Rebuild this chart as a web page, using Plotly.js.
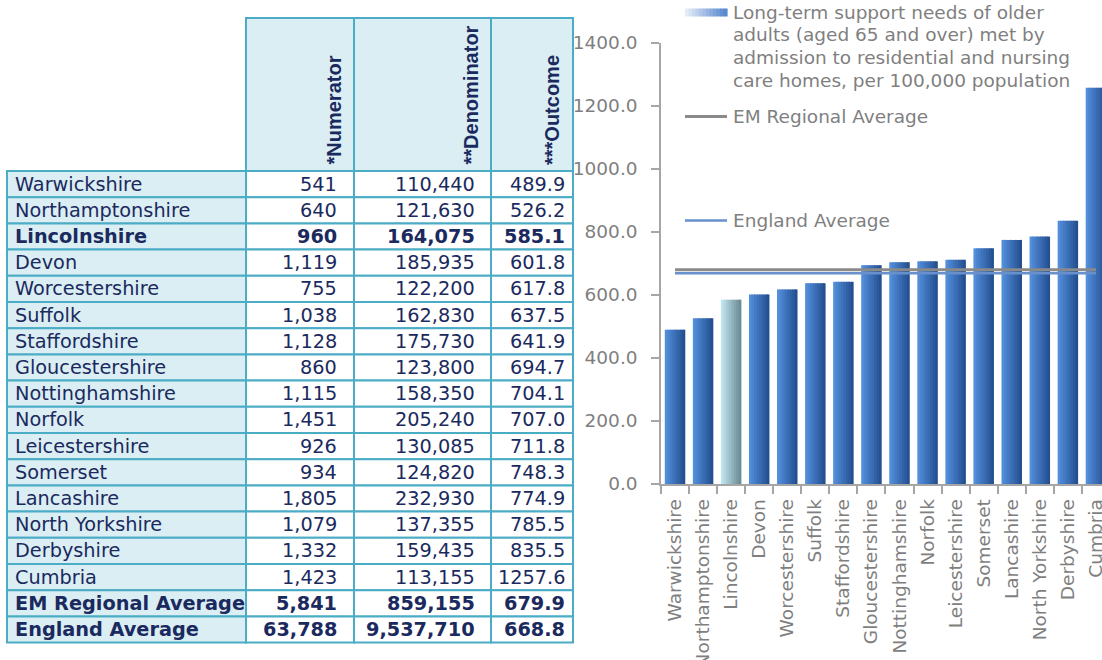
<!DOCTYPE html>
<html>
<head>
<meta charset="utf-8">
<script src="https://cdn.plot.ly/plotly-3.0.1.min.js"></script>
<style>
html, body { margin: 0; padding: 0; background: #ffffff; overflow: hidden; }
#chart { width: 1102px; height: 660px; }
</style>
</head>
<body>
<div id="chart"></div>
<script>
// ---------------- data ----------------
const counties = ['Warwickshire', 'Northamptonshire', 'Lincolnshire', 'Devon', 'Worcestershire', 'Suffolk',
  'Staffordshire', 'Gloucestershire', 'Nottinghamshire', 'Norfolk', 'Leicestershire', 'Somerset',
  'Lancashire', 'North Yorkshire', 'Derbyshire', 'Cumbria'];
const numerators = [541, 640, 960, 1119, 755, 1038, 1128, 860, 1115, 1451, 926, 934, 1805, 1079, 1332, 1423];
const denominators = [110440, 121630, 164075, 185935, 122200, 162830, 175730, 123800, 158350, 205240,
  130085, 124820, 232930, 137355, 159435, 113155];
const outcomes = [489.9, 526.2, 585.1, 601.8, 617.8, 637.5, 641.9, 694.7, 704.1, 707.0, 711.8, 748.3,
  774.9, 785.5, 835.5, 1257.6];
const averageLabels = ['EM Regional Average', 'England Average'];
const averageNumerators = [5841, 63788];
const averageDenominators = [859155, 9537710];
const averageOutcomes = [679.9, 668.8];
const highlightCounty = 'Lincolnshire';
const columnHeaders = ['*Numerator', '**Denominator', '***Outcome'];
const seriesLegendLines = ['Long-term support needs of older', 'adults (aged 65 and over) met by',
  'admission to residential and nursing', 'care homes, per 100,000 population'];
const yTicks = [0, 200, 400, 600, 800, 1000, 1200, 1400];

// ---------------- helpers / styles ----------------
const W = 1102, H = 660;
const px = x => x / W;
const py = y => 1 - y / H;
const comma = n => String(n).replace(/\B(?=(\d{3})+(?!\d))/g, ',');
const FONT = 'DejaVu Sans, Verdana, sans-serif';
const HFONT = 'Liberation Sans, Arial, sans-serif';
const NAVY = '#1b2a5e';
const BORDER = '#4bacc6';
const CELLFILL = '#daeef3';
const GRAY = '#7f7f7f';
const AXIS = '#a6a6a6';
const EM_COLOR = '#8a8a8a';
const ENG_COLOR = '#6890cc';

const shapes = [];
const annotations = [];
function rect(x0, y0, x1, y1, fill, lineColor, lw) {
  return { type: 'rect', xref: 'paper', yref: 'paper', x0: px(x0), x1: px(x1), y0: py(y1), y1: py(y0),
    fillcolor: fill, line: { color: lineColor, width: lw } };
}

// ---------------- table ----------------
const colEdges = [7, 246, 354, 491, 573];
const headerTop = 18, headerBottom = 171, rowH = 26.2;
const pads = [6, 15, 14, 6];

columnHeaders.forEach((h, i) => {
  const c = i + 1;
  shapes.push(rect(colEdges[c], headerTop, colEdges[c + 1], headerBottom, CELLFILL, BORDER, 2));
  annotations.push({ xref: 'paper', yref: 'paper', showarrow: false, text: '<b>' + h + '</b>',
    textangle: -90, x: px(colEdges[c + 1] - 21), y: py(headerBottom - 4), xanchor: 'center', yanchor: 'bottom',
    font: { family: HFONT, size: 20, color: NAVY } });
});

const rowNames = counties.concat(averageLabels);
const rowNum = numerators.concat(averageNumerators);
const rowDen = denominators.concat(averageDenominators);
const rowOut = outcomes.concat(averageOutcomes);
rowNames.forEach((name, r) => {
  const top = headerBottom + r * rowH, bot = top + rowH;
  const bold = name === highlightCounty || averageLabels.includes(name);
  const cells = [name, comma(rowNum[r]), comma(rowDen[r]), rowOut[r].toFixed(1)];
  cells.forEach((t, c) => {
    shapes.push(rect(colEdges[c], top, colEdges[c + 1], bot, c === 0 ? CELLFILL : '#ffffff', BORDER, 2));
    annotations.push({ xref: 'paper', yref: 'paper', showarrow: false,
      text: bold ? '<b>' + t + '</b>' : t,
      x: c === 0 ? px(colEdges[0] + pads[0]) : px(colEdges[c + 1] - pads[c]),
      xanchor: c === 0 ? 'left' : 'right',
      y: py((top + bot) / 2), yanchor: 'middle',
      font: { family: FONT, size: 19.3, color: NAVY } });
  });
});

// ---------------- legend (drawn) ----------------
const legTextX = 731, symX0 = 685, symX1 = 727;
const gradSteps = 12;
const gL = [228, 235, 247], gR = [88, 136, 208];
for (let k = 0; k < gradSteps; k++) {
  const t = k / (gradSteps - 1);
  const col = 'rgb(' + gL.map((v, j) => Math.round(v + (gR[j] - v) * t)).join(',') + ')';
  const w = (symX1 - symX0) / gradSteps;
  shapes.push(rect(symX0 + k * w, 8.5, symX0 + (k + 1) * w + 0.6, 16.5, col, col, 0));
}
[12.7, 35, 57.5, 80].forEach((y, i) => {
  annotations.push({ xref: 'paper', yref: 'paper', showarrow: false, text: seriesLegendLines[i],
    x: px(legTextX), y: py(y), xanchor: 'left', yanchor: 'middle',
    font: { family: FONT, size: 18.5, color: GRAY } });
});
shapes.push({ type: 'line', xref: 'paper', yref: 'paper', x0: px(symX0), x1: px(symX1), y0: py(116.4), y1: py(116.4),
  line: { color: EM_COLOR, width: 3 } });
annotations.push({ xref: 'paper', yref: 'paper', showarrow: false, text: averageLabels[0],
  x: px(legTextX), y: py(116.5), xanchor: 'left', yanchor: 'middle', font: { family: FONT, size: 18.5, color: GRAY } });
shapes.push({ type: 'line', xref: 'paper', yref: 'paper', x0: px(symX0), x1: px(symX1), y0: py(220.6), y1: py(220.6),
  line: { color: ENG_COLOR, width: 2.5 } });
annotations.push({ xref: 'paper', yref: 'paper', showarrow: false, text: averageLabels[1],
  x: px(legTextX), y: py(220.5), xanchor: 'left', yanchor: 'middle', font: { family: FONT, size: 18.5, color: GRAY } });

// ---------------- bars (stepped horizontal gradient) ----------------
const N = 8, BW = 0.73;
const blueL = [82, 142, 218], blueR = [36, 80, 146];
const lightL = [192, 228, 238], lightR = [108, 140, 150];
const mix = (a, b, t) => 'rgb(' + a.map((v, j) => Math.round(v + (b[j] - v) * t)).join(',') + ')';
const traces = [];
for (let k = 0; k < N; k++) {
  const t = k / (N - 1);
  traces.push({
    type: 'bar', x: counties, y: outcomes,
    width: k < N - 1 ? BW / N * 1.35 : BW / N,
    offset: -BW / 2 + k * BW / N,
    marker: { color: counties.map(c => c === highlightCounty ? mix(lightL, lightR, t) : mix(blueL, blueR, t)),
      line: { width: 0 } },
    showlegend: false, hoverinfo: 'x+y'
  });
}
// average lines
traces.push({ type: 'scatter', mode: 'lines', x: [counties[0], counties[counties.length - 1]],
  y: [averageOutcomes[1], averageOutcomes[1]], line: { color: ENG_COLOR, width: 2.5 }, showlegend: false,
  name: averageLabels[1], cliponaxis: false });
traces.push({ type: 'scatter', mode: 'lines', x: [counties[0], counties[counties.length - 1]],
  y: [averageOutcomes[0], averageOutcomes[0]], line: { color: EM_COLOR, width: 3 }, showlegend: false,
  name: averageLabels[0], cliponaxis: false });

const layout = {
  width: W, height: H,
  margin: { l: 0, r: 0, t: 0, b: 0 },
  paper_bgcolor: '#ffffff', plot_bgcolor: 'rgba(0,0,0,0)',
  showlegend: false, barmode: 'overlay',
  xaxis: {
    domain: [px(661), 1], type: 'category', range: [-0.5, 15.216],
    showline: true, linecolor: AXIS, linewidth: 1.5, mirror: false,
    ticks: 'outside', tickson: 'boundaries', ticklen: 8, tickcolor: AXIS, tickwidth: 1.5,
    ticklabelstandoff: 6,
    tickangle: -90, tickfont: { family: FONT, size: 18.5, color: GRAY },
    showgrid: false, zeroline: false, automargin: false, fixedrange: true
  },
  yaxis: {
    domain: [py(484), py(43)], range: [0, 1400], tickvals: yTicks, tickformat: '.1f',
    showline: true, linecolor: AXIS, linewidth: 1.5,
    ticks: 'outside', ticklen: 8, tickcolor: AXIS, tickwidth: 1.5, ticklabelstandoff: 10,
    tickfont: { family: FONT, size: 18.5, color: GRAY },
    showgrid: false, zeroline: false, automargin: false, fixedrange: true
  },
  shapes: shapes,
  annotations: annotations
};

Plotly.newPlot('chart', traces, layout, { displayModeBar: false, responsive: false });
</script>
</body>
</html>
